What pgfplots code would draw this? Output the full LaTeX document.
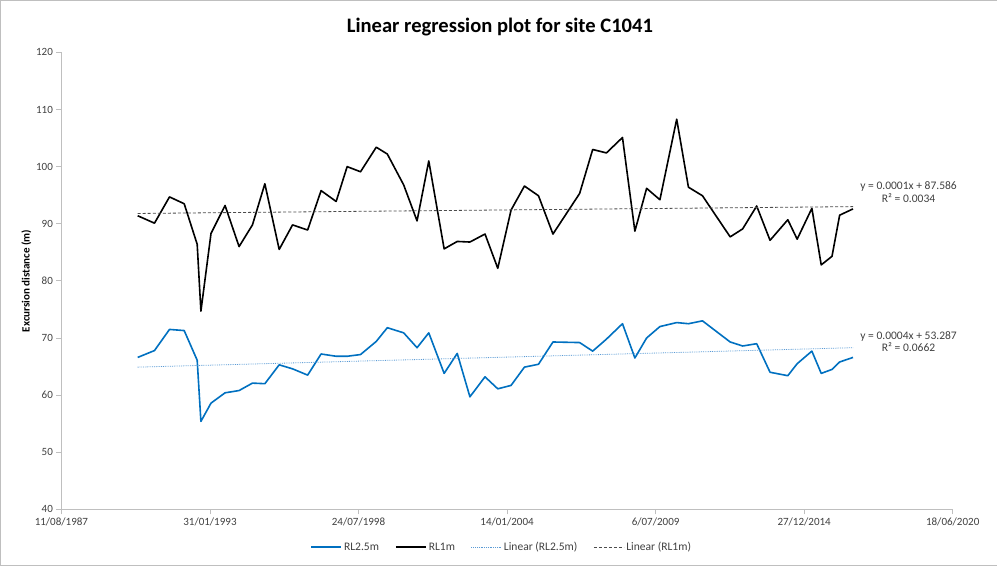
\documentclass[border=0pt]{standalone}
\usepackage{fontspec}
\setmainfont{Carlito}
\usepackage{pgfplots}
\pgfplotsset{compat=1.18}
\definecolor{rlblue}{RGB}{0,112,192}
\definecolor{trendblue}{RGB}{91,155,213}
\definecolor{txtgray}{RGB}{64,64,64}
\definecolor{axgray}{RGB}{191,191,191}

\begin{document}
\begin{tikzpicture}
\begin{axis}[
  scale only axis, width=888pt, height=455.3pt,
  xmin=32000, xmax=44000, ymin=40, ymax=120,
  xtick={32000,34000,...,44000},
  xticklabels={11/08/1987,31/01/1993,24/07/1998,14/01/2004,6/07/2009,27/12/2014,18/06/2020},
  scaled x ticks=false,
  ytick={40,50,...,120},
  axis x line=bottom, axis y line=left,
  axis line style={axgray, -},
  tick style={axgray, line width=0.8pt},
  tick align=outside, major tick length=5pt,
  ticklabel style={font=\fontsize{11}{13}\selectfont, text=txtgray},
  /pgf/number format/assume math mode=true,
  ylabel={Excursion distance (m)},
  ylabel style={at={(axis description cs:-0.0394,0.5)}, anchor=center,
    font=\fontsize{11}{13}\selectfont\bfseries, text=black},
  clip=false,
  legend columns=4,
  legend style={at={(0.494,-0.083)}, anchor=center, draw=none,
    font=\fontsize{11.5}{13.5}\selectfont, text=txtgray,
    /tikz/every even column/.append style={column sep=14pt}},
  legend image code/.code={\draw[#1] (0pt,0pt) -- (30pt,0pt);},
]
% RL2.5m
\addplot[rlblue, line width=1.6pt, line join=round] coordinates {
(33027,66.6) (33253,67.8) (33455,71.5) (33653,71.3) (33828,66.1) (33878,55.4)
(34014,58.6) (34203,60.4) (34392,60.8) (34572,62.1) (34739,62.0) (34932,65.3)
(35112,64.6) (35315,63.5) (35496,67.2) (35699,66.8) (35847,66.8) (36027,67.1)
(36239,69.4) (36388,71.8) (36608,70.9) (36788,68.3) (36946,70.9) (37153,63.8)
(37329,67.3) (37500,59.7) (37703,63.2) (37875,61.1) (38054,61.7) (38234,64.9)
(38423,65.4) (38618,69.3) (38977,69.2) (39153,67.7) (39338,69.8) (39554,72.5)
(39721,66.5) (39879,70.0) (40058,72.0) (40284,72.7) (40442,72.5) (40631,73.0)
(41004,69.3) (41172,68.6) (41361,69.0) (41541,64.0) (41780,63.4) (41906,65.5)
(42104,67.7) (42230,63.8) (42375,64.5) (42478,65.8) (42658,66.6)};
\addlegendentry{RL2.5m}
% RL1m
\addplot[black, line width=1.6pt, line join=round] coordinates {
(33027,91.4) (33253,90.1) (33455,94.7) (33653,93.5) (33828,86.4) (33878,74.7)
(34014,88.3) (34203,93.2) (34392,86.0) (34572,89.8) (34739,97.0) (34932,85.5)
(35112,89.8) (35315,88.9) (35496,95.8) (35699,93.9) (35847,100.0) (36027,99.1)
(36239,103.4) (36388,102.2) (36608,96.8) (36788,90.5) (36946,101.0) (37153,85.6)
(37329,86.9) (37500,86.8) (37703,88.2) (37875,82.2) (38054,92.4) (38234,96.6)
(38423,94.9) (38618,88.2) (38977,95.3) (39153,103.0) (39338,102.4) (39554,105.1)
(39721,88.7) (39879,96.2) (40058,94.2) (40284,108.3) (40442,96.4) (40631,94.9)
(41004,87.7) (41172,89.1) (41361,93.1) (41541,87.1) (41780,90.7) (41906,87.3)
(42104,92.7) (42230,82.8) (42375,84.3) (42478,91.5) (42658,92.6)};
\addlegendentry{RL1m}
% trend lines
\addplot[trendblue, line width=0.8pt, densely dotted] coordinates {(33027,64.9) (42658,68.3)};
\addlegendentry{Linear (RL2.5m)}
\addplot[black!70, line width=0.8pt, densely dashed] coordinates {(33027,91.8) (42658,93.0)};
\addlegendentry{Linear (RL1m)}

\node[font=\fontsize{20.5}{24}\selectfont\bfseries, text=black] at (rel axis cs:0.492,1.055) {Linear regression plot for site C1041};
\node[align=center, font=\fontsize{11.5}{12.5}\selectfont, text=txtgray] at (axis cs:43406,95.55) {y = 0.0001x + 87.586\\R² = 0.0034};
\node[align=center, font=\fontsize{11.5}{12.5}\selectfont, text=txtgray] at (axis cs:43406,69.4) {y = 0.0004x + 53.287\\R² = 0.0662};
\draw[axgray] (rel axis cs:-0.0687,-0.1223) rectangle (rel axis cs:1.0495,1.1142);
\end{axis}
\end{tikzpicture}
\end{document}
